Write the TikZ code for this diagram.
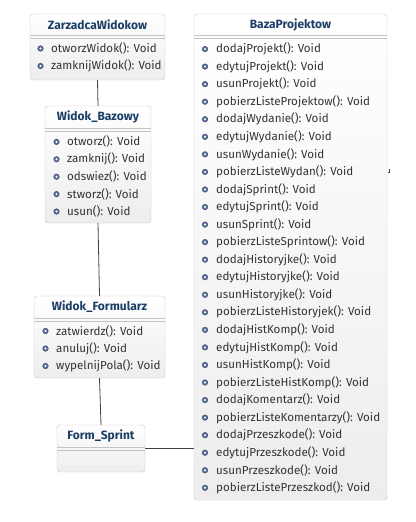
\documentclass[tikz,border=0pt]{standalone}
\usepackage{fontspec}
\setmainfont{Fira Sans}
\definecolor{titleblue}{HTML}{1B3F66}
\definecolor{boxline}{HTML}{C4C4C4}
\definecolor{icoblue}{HTML}{5C6F9E}

\begin{document}
\begin{tikzpicture}[
    x=1pt,y=-1pt,
    cls/.style={draw=boxline,rounded corners=3pt,top color=white,bottom color=black!7,inner sep=0pt},
    title/.style={font=\fontsize{12}{14}\selectfont\bfseries,text=titleblue,inner sep=0pt},
    member/.style={anchor=west,font=\fontsize{11.6}{13}\selectfont,text=black!80,inner sep=0pt},
    ico/.style={fill=icoblue,draw=icoblue!60!black,line width=0.4pt},
    sep/.style={draw=boxline,line width=0.6pt},
    assoc/.style={draw=black!75,line width=0.8pt}
]
\useasboundingbox (0,0) rectangle (415,522);

% ZarzadcaWidokow
\node[cls,minimum width=135pt,minimum height=66pt] (zw) at (97.5,47) {};
\node[title] (zwt) at (97.5,25) {ZarzadcaWidokow};
\draw[sep] (30,35.5) -- (165,35.5);
\draw[sep] (30,38.5) -- (165,38.5);
\foreach \m [count=\i] in {otworzWidok(): Void,zamknijWidok(): Void}
{
  \fill[ico] (40.5,31+17.5*\i) circle (2.8pt);
  \fill[white] (40.5,31+17.5*\i) circle (1.1pt);
  \node[member] at (51,31+17.5*\i) {\m};
}

% Widok_Bazowy
\node[cls,minimum width=106pt,minimum height=117pt] (wb) at (98,164.5) {};
\node[title] (wbt) at (98,117) {Widok\_Bazowy};
\draw[sep] (45,128.5) -- (151,128.5);
\draw[sep] (45,131.5) -- (151,131.5);
\foreach \m [count=\i] in {otworz(): Void,zamknij(): Void,odswiez(): Void,stworz(): Void,usun(): Void}
{
  \fill[ico] (56.5,124.5+17.4*\i) circle (2.8pt);
  \fill[white] (56.5,124.5+17.4*\i) circle (1.1pt);
  \node[member] at (67,124.5+17.4*\i) {\m};
}

% Widok_Formularz
\node[cls,minimum width=131pt,minimum height=82pt] (wf) at (99.5,337) {};
\node[title] (wft) at (99.5,307) {Widok\_Formularz};
\draw[sep] (34,318.5) -- (165,318.5);
\draw[sep] (34,321.5) -- (165,321.5);
\foreach \m [count=\i] in {zatwierdz(): Void,anuluj(): Void,wypelnijPola(): Void}
{
  \fill[ico] (45.5,313.5+17.5*\i) circle (2.8pt);
  \fill[white] (45.5,313.5+17.5*\i) circle (1.1pt);
  \node[member] at (56,313.5+17.5*\i) {\m};
}

% Form_Sprint
\node[cls,minimum width=88pt,minimum height=47pt] (fs) at (101,448.5) {};
\node[title] (fst) at (101,436) {Form\_Sprint};
\draw[sep] (57,447.5) -- (145,447.5);
\draw[sep] (57,450.5) -- (145,450.5);

% BazaProjektow
\node[cls,minimum width=193pt,minimum height=486pt] (bp) at (290.5,257) {};
\node[title] (bpt) at (290.5,25) {BazaProjektow};
\draw[sep] (194,35.5) -- (387,35.5);
\draw[sep] (194,38.5) -- (387,38.5);
\foreach \m [count=\i] in {dodajProjekt(): Void,edytujProjekt(): Void,usunProjekt(): Void,
  pobierzListeProjektow(): Void,dodajWydanie(): Void,edytujWydanie(): Void,usunWydanie(): Void,
  pobierzListeWydan(): Void,dodajSprint(): Void,edytujSprint(): Void,usunSprint(): Void,
  pobierzListeSprintow(): Void,dodajHistoryjke(): Void,edytujHistoryjke(): Void,
  usunHistoryjke(): Void,pobierzListeHistoryjek(): Void,dodajHistKomp(): Void,
  edytujHistKomp(): Void,usunHistKomp(): Void,pobierzListeHistKomp(): Void,
  dodajKomentarz(): Void,pobierzListeKomentarzy(): Void,dodajPrzeszkode(): Void,
  edytujPrzeszkode(): Void,usunPrzeszkode(): Void,pobierzListePrzeszkod(): Void}
{
  \fill[ico] (205,31.5+17.55*\i) circle (2.8pt);
  \fill[white] (205,31.5+17.55*\i) circle (1.1pt);
  \node[member] at (216,31.5+17.55*\i) {\m};
}

% connectors
\draw[assoc] (zw.south) -- (wb.north);
\draw[assoc] (wb.south) -- (wf.north);
\draw[assoc] (wf.south) -- (fs.north);
\draw[assoc] (fs.east) -- (fs.east -| bp.west);
\coordinate (stub) at (388,172);
\draw[assoc] (stub) -- ++(1.5,0) -- ++(0,-3);

\end{tikzpicture}
\end{document}
